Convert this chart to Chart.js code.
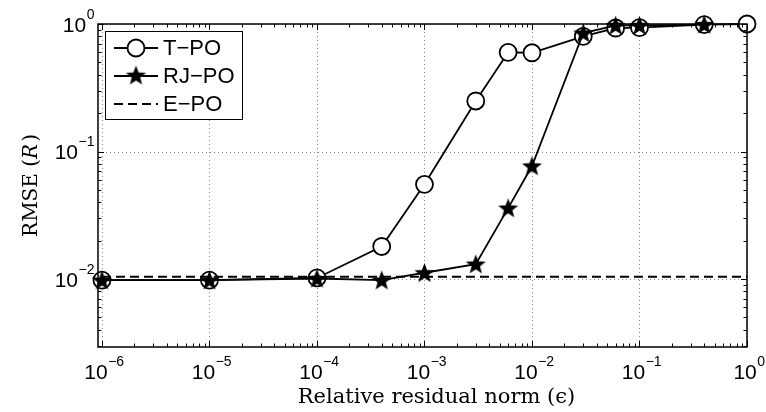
<!DOCTYPE html>
<html>
<head>
<meta charset="utf-8">
<script src="https://cdn.jsdelivr.net/npm/chart.js@4.4.1/dist/chart.umd.min.js"></script>
<style>
  html, body { margin:0; padding:0; background:#fff; }
  #wrap { width:766px; height:412px; position:relative; }
</style>
</head>
<body>
<div id="wrap"><canvas id="c" width="766" height="412"></canvas></div>
<script>
// data
const epsValues = [1e-6, 1e-5, 1e-4, 4e-4, 1e-3, 3e-3, 6e-3, 1e-2, 3e-2, 6e-2, 1e-1, 4e-1, 1];
const tpoRmse  = [0.0098, 0.0098, 0.0102, 0.018, 0.0553, 0.249, 0.60, 0.595, 0.80, 0.93, 0.935, 0.99, 1.0];
const rjpoRmse = [0.0098, 0.0098, 0.0101, 0.0098, 0.0112, 0.0131, 0.036, 0.077, 0.85, 0.975, 0.975, 0.99];
const epoEps   = [1e-6, 1];
const epoRmse  = [0.0104, 0.0104];
const xExponents = [-6, -5, -4, -3, -2, -1, 0];
const yExponents = [-2, -1, 0];
const seriesNames = ['T\u2212PO', 'RJ\u2212PO', 'E\u2212PO'];

const X_MIN = Math.pow(10, -6.037), X_MAX = 1;
const Y_MIN = Math.pow(10, -2.533), Y_MAX = 1;

const SANS = '"Liberation Sans", Arial, Helvetica, sans-serif';
const SERIF = '"DejaVu Serif", "Liberation Serif", serif';

// filled pentagram marker
function makeStar(r) {
  const size = Math.ceil(r * 2 + 2);
  const cv = document.createElement('canvas');
  cv.width = size; cv.height = size;
  const g = cv.getContext('2d');
  const cx = size / 2, cy = size / 2 + 0.8, ri = r * 0.42;
  g.beginPath();
  for (let i = 0; i < 10; i++) {
    const rad = i % 2 ? ri : r;
    const a = -Math.PI / 2 + i * Math.PI / 5;
    const px = cx + rad * Math.cos(a), py = cy + rad * Math.sin(a);
    i ? g.lineTo(px, py) : g.moveTo(px, py);
  }
  g.closePath();
  g.fillStyle = '#000';
  g.fill();
  return cv;
}
const starImg = makeStar(10.5);

const pts = (xs, ys) => ys.map((y, i) => ({ x: xs[i], y }));

function powLabel(ctx, exp, x, y, align) {
  const base = '10', sup = exp === 0 ? '0' : '\u2212' + Math.abs(exp);
  ctx.font = '21px ' + SANS;
  const bw = ctx.measureText(base).width;
  ctx.font = '14px ' + SANS;
  const sw = ctx.measureText(sup).width;
  let left = align === 'right' ? x - bw - sw : x - (bw + sw) / 2;
  ctx.textAlign = 'left';
  ctx.textBaseline = 'middle';
  ctx.font = '21px ' + SANS;
  ctx.fillText(base, left, y);
  ctx.font = '14px ' + SANS;
  ctx.fillText(sup, left + bw + 0.5, y - 11);
}

const frame = {
  id: 'frame',
  beforeDatasetsDraw(chart) {
    const { ctx, chartArea: a, scales: { x, y } } = chart;
    ctx.save();
    ctx.strokeStyle = '#8a8a8a';
    ctx.lineWidth = 1;
    ctx.setLineDash([1, 3]);
    xExponents.forEach(e => {
      const px = Math.round(x.getPixelForValue(Math.pow(10, e))) + 0.5;
      ctx.beginPath(); ctx.moveTo(px, a.top); ctx.lineTo(px, a.bottom); ctx.stroke();
    });
    yExponents.forEach(e => {
      const py = Math.round(y.getPixelForValue(Math.pow(10, e))) + 0.5;
      ctx.beginPath(); ctx.moveTo(a.left, py); ctx.lineTo(a.right, py); ctx.stroke();
    });
    ctx.restore();
  },
  afterDatasetsDraw(chart) {
    const { ctx, chartArea: a, scales: { x, y } } = chart;
    ctx.save();
    ctx.strokeStyle = '#000';
    ctx.fillStyle = '#000';
    ctx.lineWidth = 1;

    // tick marks (inward, all four sides)
    for (let e = -7; e <= 0; e++) {
      for (let m = 1; m <= 9; m++) {
        const v = m * Math.pow(10, e);
        if (v < X_MIN || v > X_MAX) continue;
        const px = Math.round(x.getPixelForValue(v)) + 0.5;
        const len = m === 1 ? 6 : 3.5;
        ctx.beginPath();
        ctx.moveTo(px, a.bottom); ctx.lineTo(px, a.bottom - len);
        ctx.moveTo(px, a.top); ctx.lineTo(px, a.top + len);
        ctx.stroke();
      }
    }
    for (let e = -3; e <= 0; e++) {
      for (let m = 1; m <= 9; m++) {
        const v = m * Math.pow(10, e);
        if (v < Y_MIN || v > Y_MAX) continue;
        const py = Math.round(y.getPixelForValue(v)) + 0.5;
        const len = m === 1 ? 6 : 3.5;
        ctx.beginPath();
        ctx.moveTo(a.left, py); ctx.lineTo(a.left + len, py);
        ctx.moveTo(a.right, py); ctx.lineTo(a.right - len, py);
        ctx.stroke();
      }
    }

    // box
    ctx.lineWidth = 1.5;
    ctx.strokeRect(a.left, a.top, a.right - a.left, a.bottom - a.top);

    // tick labels
    xExponents.forEach(e => powLabel(ctx, e, x.getPixelForValue(Math.pow(10, e)) + 2, a.bottom + 26, 'center'));
    yExponents.forEach(e => powLabel(ctx, e, a.left - 4, y.getPixelForValue(Math.pow(10, e)) + 2, 'right'));

    // axis titles
    ctx.font = '21px ' + SERIF;
    ctx.textAlign = 'center';
    ctx.textBaseline = 'alphabetic';
    ctx.fillText('Relative residual norm (\u03f5)', (a.left + a.right) / 2 + 14, 403);

    ctx.save();
    ctx.translate(37, (a.top + a.bottom) / 2);
    ctx.rotate(-Math.PI / 2);
    const parts = [['RMSE (', '20px ' + SERIF], ['R', 'italic 20px ' + SERIF], [')', '20px ' + SERIF]];
    let total = 0;
    parts.forEach(p => { ctx.font = p[1]; total += ctx.measureText(p[0]).width + (p[0] === 'R' ? 2 : 0); });
    let cx = -total / 2;
    ctx.textAlign = 'left';
    parts.forEach(p => {
      ctx.font = p[1];
      ctx.fillText(p[0], cx, 0);
      cx += ctx.measureText(p[0]).width + (p[0] === 'R' ? 2 : 0);
    });
    ctx.restore();

    // legend
    const lx = a.left + 7, ly = a.top + 7, lw = 137, lh = 88;
    ctx.fillStyle = '#fff';
    ctx.fillRect(lx, ly, lw, lh);
    ctx.lineWidth = 1;
    ctx.strokeStyle = '#000';
    ctx.strokeRect(lx + 0.5, ly + 0.5, lw, lh);
    const rows = [17, 45, 73];
    chart.data.datasets.forEach((ds, i) => {
      const ry = ly + rows[i];
      ctx.strokeStyle = '#000';
      ctx.lineWidth = ds.borderWidth;
      ctx.setLineDash(ds.borderDash || []);
      ctx.beginPath(); ctx.moveTo(lx + 9, ry); ctx.lineTo(lx + 53, ry); ctx.stroke();
      ctx.setLineDash([]);
      if (i === 0) {
        ctx.beginPath(); ctx.arc(lx + 31, ry, 8.5, 0, Math.PI * 2);
        ctx.fillStyle = '#fff'; ctx.fill(); ctx.lineWidth = 1.8; ctx.stroke();
      } else if (i === 1) {
        ctx.drawImage(starImg, lx + 31 - starImg.width / 2, ry - starImg.height / 2 - 0.8);
      }
      ctx.fillStyle = '#000';
      ctx.font = '22px ' + SANS;
      ctx.textAlign = 'left';
      ctx.textBaseline = 'middle';
      ctx.fillText(ds.label, lx + 58, ry + 1);
    });
    ctx.restore();
  }
};

function build() {
  new Chart(document.getElementById('c'), {
    type: 'line',
    data: {
      datasets: [
        {
          label: seriesNames[0], data: pts(epsValues, tpoRmse), order: 2,
          borderColor: '#000', borderWidth: 1.8, pointStyle: 'circle', pointRadius: 8.5,
          pointBackgroundColor: '#fff', pointBorderColor: '#000', pointBorderWidth: 1.8, clip: false
        },
        {
          label: seriesNames[1], data: pts(epsValues, rjpoRmse), order: 1,
          borderColor: '#000', borderWidth: 1.8, pointStyle: starImg, pointRadius: 10, clip: false
        },
        {
          label: seriesNames[2], data: pts(epoEps, epoRmse), order: 0,
          borderColor: '#000', borderWidth: 2, borderDash: [9, 5], pointRadius: 0, clip: false
        }
      ]
    },
    options: {
      responsive: false,
      animation: false,
      layout: { padding: { left: 98, right: 19, top: 24, bottom: 65 } },
      plugins: { legend: { display: false }, tooltip: { enabled: false } },
      elements: { line: { tension: 0 } },
      scales: {
        x: { type: 'logarithmic', min: X_MIN, max: X_MAX, display: false },
        y: { type: 'logarithmic', min: Y_MIN, max: Y_MAX, display: false }
      }
    },
    plugins: [frame]
  });
}

Promise.all([
  document.fonts.load('21px "Liberation Sans"'),
  document.fonts.load('14px "Liberation Sans"'),
  document.fonts.load('21px "DejaVu Serif"'),
  document.fonts.load('italic 20px "DejaVu Serif"')
]).then(build, build);
</script>
</body>
</html>
